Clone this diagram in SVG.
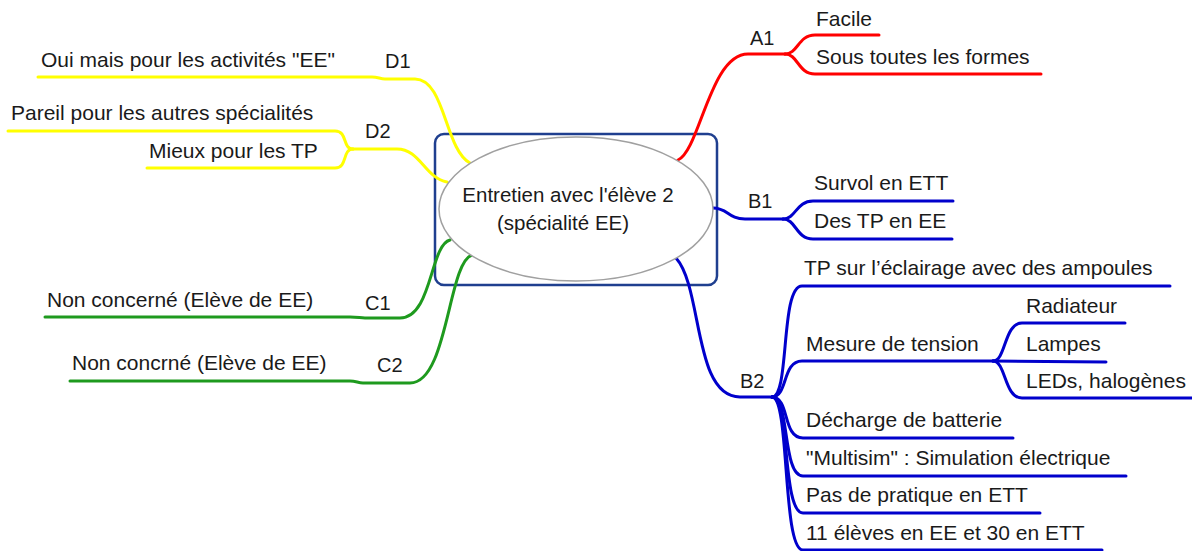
<svg xmlns="http://www.w3.org/2000/svg" width="1192" height="551" viewBox="0 0 1192 551">
<style>
text{font-family:"Liberation Sans",Arial,sans-serif;font-size:21px;fill:#1a1a1a}
text.l{font-size:20px}
text.m{font-size:20.5px}
.c{fill:none;stroke-width:3;stroke-linecap:round;stroke-linejoin:round}
.r{stroke:#ff0000}.b{stroke:#0000cc}.y{stroke:#ffff00}.g{stroke:#1e9a1e}
</style>
<rect width="1192" height="551" fill="#ffffff"/>
<g id="frame"><rect x="435" y="134" width="282" height="151" rx="9" fill="none" stroke="#1f3f8f" stroke-width="2.5"/></g>
<g id="connectors">
<path class="c r" d="M678,160 C700,150 710,54 748,54 L785,54"/>
<path class="c r" d="M785,54 C798,54 798,35 815,35 L879,35"/>
<path class="c r" d="M785,54 C798,54 798,74 815,74 L1041,74"/>
<path class="c b" d="M713,208 C728,208 728,219 745,219 L783,219"/>
<path class="c b" d="M783,219 C796,219 796,201 813,201 L953,201"/>
<path class="c b" d="M783,219 C796,219 796,239 813,239 L952,239"/>
<path class="c b" d="M676,258 C703,288 693,397 740,397 L772,397"/>
<path class="c b" d="M772,397 C790,397 780,286 802,286 L1170,286"/>
<path class="c b" d="M772,397 C788,397 782,361 802,361 L993,361"/>
<path class="c b" d="M993,361 C1006,361 1004,323 1022,323 L1125,323"/>
<path class="c b" d="M993,361 L1106,362"/>
<path class="c b" d="M993,361 C1006,361 1004,398 1022,398 L1192,398"/>
<path class="c b" d="M772,397 C790,397 782,438 803,438 L1013,438"/>
<path class="c b" d="M772,397 C790,397 782,476 803,476 L1126,476"/>
<path class="c b" d="M772,397 C790,397 782,513 803,513 L1040,513"/>
<path class="c b" d="M772,397 C790,397 782,550 803,550 L1102,550"/>
<path class="c y" d="M470,163 C445,150 445,79 415,79 L385,79 C380,79 378,77 372,77 L38,77"/>
<path class="c y" d="M447,182 C425,178 420,149 397,149 L353,149"/>
<path class="c y" d="M353,149 C342,149 348,131 335,131 L8,131"/>
<path class="c y" d="M353,149 C342,149 348,168 335,168 L147,168"/>
<path class="c g" d="M450,240 C430,245 432,318 400,318 L365,318 C360,318 358,317 350,317 L45,317"/>
<path class="c g" d="M472,255 C448,262 448,383 410,383 L363,383 C358,383 356,381 350,381 L70,381"/>
</g>
<g id="center">
<ellipse cx="576" cy="209" rx="137" ry="72" fill="#ffffff" stroke="#a0a0a0" stroke-width="1.5"/>
<text class="m" x="568" y="202" text-anchor="middle">Entretien avec l'élève 2</text>
<text class="m" x="563" y="230" text-anchor="middle">(spécialité EE)</text>
</g>
<g id="A1"><text class="l" x="750" y="45">A1</text></g>
<g id="A1-facile"><text x="816" y="26">Facile</text></g>
<g id="A1-formes"><text x="816" y="64">Sous toutes les formes</text></g>
<g id="B1"><text class="l" x="748" y="208">B1</text></g>
<g id="B1-survol"><text x="814" y="190">Survol en ETT</text></g>
<g id="B1-tp"><text x="814" y="228">Des TP en EE</text></g>
<g id="B2"><text class="l" x="740" y="388">B2</text></g>
<g id="B2-eclairage"><text x="804" y="275">TP sur l’éclairage avec des ampoules</text></g>
<g id="B2-mesure"><text x="806" y="351">Mesure de tension</text></g>
<g id="B2-radiateur"><text x="1026" y="313">Radiateur</text></g>
<g id="B2-lampes"><text x="1026" y="351">Lampes</text></g>
<g id="B2-leds"><text x="1026" y="388">LEDs, halogènes</text></g>
<g id="B2-decharge"><text x="806" y="427">Décharge de batterie</text></g>
<g id="B2-multisim"><text x="806" y="465">"Multisim" : Simulation électrique</text></g>
<g id="B2-pratique"><text x="806" y="502">Pas de pratique en ETT</text></g>
<g id="B2-eleves"><text x="806" y="540">11 élèves en EE et 30 en ETT</text></g>
<g id="D1"><text class="l" x="385" y="68">D1</text></g>
<g id="D1-oui"><text x="41" y="67">Oui mais pour les activités "EE"</text></g>
<g id="D2"><text class="l" x="365" y="138">D2</text></g>
<g id="D2-pareil"><text x="11" y="120">Pareil pour les autres spécialités</text></g>
<g id="D2-mieux"><text x="149" y="158">Mieux pour les TP</text></g>
<g id="C1"><text class="l" x="365" y="310">C1</text></g>
<g id="C1-non"><text x="47" y="307">Non concerné (Elève de EE)</text></g>
<g id="C2"><text class="l" x="377" y="372">C2</text></g>
<g id="C2-non"><text x="72" y="370">Non concrné (Elève de EE)</text></g>
</svg>
